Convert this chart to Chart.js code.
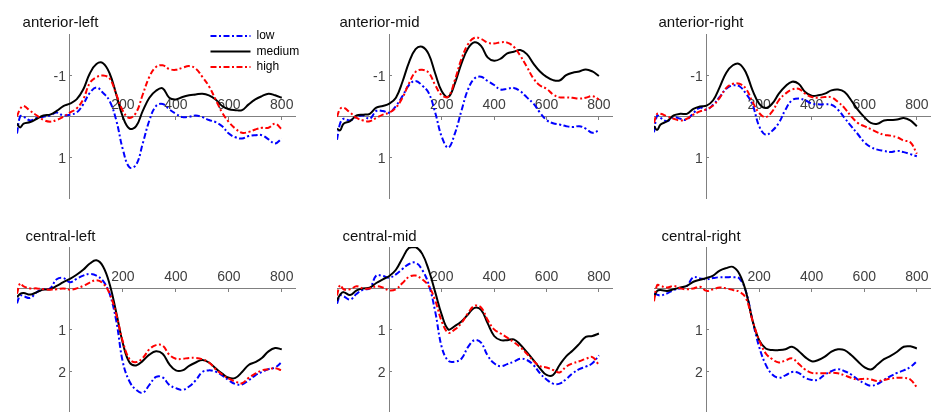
<!DOCTYPE html>
<html>
<head>
<meta charset="utf-8">
<script src="https://cdn.jsdelivr.net/npm/chart.js@4.4.1/dist/chart.umd.min.js"></script>
<style>
html, body { margin: 0; padding: 0; background: #ffffff; width: 935px; height: 412px; overflow: hidden; position: relative; }
.panel { position: absolute; }
.panel canvas { display: block; }
.title { position: absolute; font-family: "Liberation Sans", Arial, Helvetica, sans-serif; font-size: 15px; line-height: 15px; color: #111111; white-space: nowrap; transform: translateX(-50%); }
</style>
</head>
<body>
<script>
// ---------------- data ----------------
const times = [-200, -188, -175, -150, -125, -100, -75, -50, -25, 0, 25, 50, 75, 100, 125, 150, 175, 200, 225, 250, 275, 300, 325, 350, 375, 400, 425, 450, 475, 500, 525, 550, 575, 600, 625, 650, 675, 700, 725, 750, 775, 800];

const seriesNames = ['low', 'medium', 'high'];
const panelTitles = ['anterior-left', 'anterior-mid', 'anterior-right', 'central-left', 'central-mid', 'central-right'];

const xTickValues = [200, 400, 600, 800];
const xTickLabels = ['200', '400', '600', '800'];
const yTickValuesAnterior = [-1, 1];
const yTickLabelsAnterior = ['-1', '1'];
const yTickValuesCentral = [1, 2];
const yTickLabelsCentral = ['1', '2'];

// anterior-left
const anteriorLeftLow = [0.42, 0.00, 0.01, 0.10, 0.04, 0.01, -0.02, -0.09, -0.02, -0.04, -0.09, -0.29, -0.57, -0.70, -0.57, -0.37, 0.10, 0.81, 1.24, 1.18, 0.66, 0.10, -0.25, -0.30, -0.17, -0.06, 0.02, 0.01, -0.02, 0.02, 0.09, 0.14, 0.24, 0.42, 0.51, 0.54, 0.48, 0.46, 0.46, 0.56, 0.66, 0.54];
const anteriorLeftMedium = [0.18, 0.27, 0.18, 0.14, 0.06, -0.02, -0.04, -0.13, -0.25, -0.31, -0.41, -0.65, -1.04, -1.27, -1.29, -1.04, -0.53, 0.02, 0.30, 0.24, -0.13, -0.45, -0.62, -0.68, -0.45, -0.41, -0.47, -0.51, -0.53, -0.55, -0.51, -0.41, -0.25, -0.17, -0.15, -0.15, -0.29, -0.41, -0.49, -0.55, -0.51, -0.45];
const anteriorLeftHigh = [0.00, -0.18, -0.25, -0.13, -0.02, 0.09, 0.13, 0.09, 0.01, -0.09, -0.19, -0.41, -0.81, -0.95, -0.99, -0.92, -0.53, -0.13, 0.04, -0.09, -0.53, -0.96, -1.20, -1.24, -1.15, -1.13, -1.18, -1.22, -1.16, -0.96, -0.73, -0.41, -0.09, 0.14, 0.30, 0.40, 0.38, 0.32, 0.28, 0.28, 0.18, 0.32];

// anterior-mid
const anteriorMidLow = [0.57, 0.17, 0.06, 0.10, 0.01, -0.02, 0.06, -0.13, -0.13, -0.09, -0.25, -0.49, -0.76, -0.86, -0.75, -0.57, -0.09, 0.50, 0.76, 0.42, -0.13, -0.65, -0.92, -0.96, -0.86, -0.76, -0.65, -0.67, -0.69, -0.61, -0.46, -0.31, -0.09, 0.09, 0.17, 0.20, 0.24, 0.26, 0.24, 0.30, 0.40, 0.34];
const anteriorMidMedium = [0.30, 0.34, 0.18, 0.12, -0.02, -0.04, -0.06, -0.21, -0.25, -0.31, -0.45, -0.84, -1.31, -1.63, -1.69, -1.51, -1.04, -0.61, -0.47, -0.80, -1.28, -1.65, -1.80, -1.71, -1.43, -1.35, -1.40, -1.53, -1.57, -1.61, -1.51, -1.28, -1.09, -0.96, -0.88, -0.87, -1.00, -1.06, -1.09, -1.14, -1.09, -0.98];
const anteriorMidHigh = [0.01, -0.18, -0.21, -0.09, 0.04, 0.10, 0.12, 0.04, -0.04, -0.09, -0.21, -0.45, -0.80, -1.08, -1.13, -1.06, -0.76, -0.51, -0.48, -0.88, -1.39, -1.75, -1.91, -1.88, -1.79, -1.77, -1.80, -1.79, -1.69, -1.47, -1.20, -0.92, -0.75, -0.67, -0.53, -0.46, -0.46, -0.45, -0.43, -0.45, -0.49, -0.41];

// anterior-right
const anteriorRightLow = [0.39, -0.02, 0.04, 0.12, 0.02, 0.06, 0.08, -0.08, -0.21, -0.16, -0.28, -0.47, -0.67, -0.75, -0.73, -0.55, -0.28, 0.24, 0.45, 0.35, 0.16, -0.16, -0.39, -0.43, -0.39, -0.31, -0.29, -0.29, -0.28, -0.16, 0.04, 0.24, 0.43, 0.63, 0.75, 0.81, 0.84, 0.87, 0.84, 0.87, 0.92, 0.97];
const anteriorRightMedium = [0.24, 0.33, 0.20, 0.12, -0.02, -0.06, -0.06, -0.18, -0.24, -0.26, -0.39, -0.71, -1.06, -1.24, -1.27, -1.06, -0.63, -0.31, -0.20, -0.31, -0.55, -0.73, -0.84, -0.79, -0.59, -0.50, -0.51, -0.55, -0.63, -0.65, -0.59, -0.39, -0.16, 0.02, 0.16, 0.18, 0.10, 0.09, 0.08, 0.04, 0.10, 0.24];
const anteriorRightHigh = [0.16, -0.06, -0.06, 0.00, 0.06, 0.10, 0.06, -0.04, -0.12, -0.17, -0.26, -0.45, -0.69, -0.79, -0.79, -0.67, -0.35, -0.08, 0.02, -0.12, -0.39, -0.55, -0.65, -0.67, -0.55, -0.47, -0.45, -0.47, -0.46, -0.35, -0.20, 0.00, 0.16, 0.24, 0.31, 0.39, 0.45, 0.47, 0.51, 0.59, 0.63, 0.91];

// central-left
const centralLeftLow = [0.36, 0.17, 0.19, 0.23, 0.09, 0.02, 0.00, -0.22, -0.25, -0.15, -0.23, -0.31, -0.35, -0.31, -0.18, 0.13, 0.79, 1.79, 2.25, 2.45, 2.52, 2.33, 2.14, 2.15, 2.33, 2.41, 2.45, 2.37, 2.22, 2.02, 1.98, 2.01, 2.10, 2.22, 2.31, 2.32, 2.22, 2.10, 2.02, 1.95, 1.91, 1.78];
const centralLeftMedium = [0.21, 0.13, 0.11, 0.15, 0.09, 0.03, 0.02, -0.06, -0.15, -0.23, -0.33, -0.45, -0.60, -0.68, -0.53, -0.10, 0.59, 1.33, 1.79, 1.86, 1.75, 1.60, 1.52, 1.58, 1.83, 1.98, 1.98, 1.87, 1.79, 1.73, 1.79, 1.93, 2.06, 2.16, 2.16, 2.02, 1.85, 1.78, 1.68, 1.52, 1.44, 1.47];
const centralLeftHigh = [0.13, -0.12, -0.05, 0.00, 0.00, 0.02, 0.03, 0.02, 0.00, 0.03, 0.00, -0.06, -0.14, -0.20, -0.12, 0.13, 0.63, 1.29, 1.71, 1.78, 1.68, 1.47, 1.37, 1.38, 1.60, 1.70, 1.70, 1.68, 1.68, 1.71, 1.79, 1.95, 2.08, 2.18, 2.25, 2.29, 2.16, 2.06, 1.98, 1.95, 1.93, 1.98];

// central-mid
const centralMidLow = [0.37, 0.17, 0.19, 0.27, 0.13, 0.03, 0.00, -0.31, -0.30, -0.26, -0.34, -0.47, -0.59, -0.62, -0.45, -0.10, 0.56, 1.42, 1.75, 1.77, 1.70, 1.42, 1.25, 1.31, 1.62, 1.81, 1.88, 1.83, 1.77, 1.70, 1.73, 1.85, 2.05, 2.20, 2.30, 2.30, 2.19, 2.05, 1.95, 1.89, 1.81, 1.62];
const centralMidMedium = [0.29, 0.15, 0.09, 0.16, 0.05, 0.00, -0.02, -0.13, -0.22, -0.30, -0.45, -0.73, -0.98, -1.00, -0.84, -0.45, 0.09, 0.64, 0.99, 0.91, 0.80, 0.63, 0.47, 0.52, 0.84, 1.15, 1.25, 1.25, 1.23, 1.36, 1.54, 1.73, 1.93, 2.09, 2.09, 1.85, 1.64, 1.50, 1.34, 1.17, 1.15, 1.09];
const centralMidHigh = [0.17, -0.08, 0.02, 0.02, -0.05, 0.00, 0.00, -0.05, -0.02, 0.05, 0.02, -0.13, -0.28, -0.31, -0.22, -0.06, 0.29, 0.80, 1.07, 0.99, 0.84, 0.60, 0.42, 0.46, 0.76, 0.99, 1.09, 1.19, 1.30, 1.42, 1.58, 1.75, 1.88, 1.91, 1.97, 2.03, 1.89, 1.81, 1.76, 1.70, 1.66, 1.85];

// central-right
const centralRightLow = [0.12, 0.15, 0.17, 0.12, 0.04, 0.00, -0.06, -0.27, -0.24, -0.22, -0.25, -0.27, -0.27, -0.27, -0.24, 0.08, 0.78, 1.41, 1.84, 2.08, 2.16, 2.10, 2.02, 2.04, 2.16, 2.21, 2.20, 2.08, 2.00, 1.95, 2.00, 2.08, 2.20, 2.29, 2.35, 2.31, 2.21, 2.12, 2.04, 1.98, 1.90, 1.76];
const centralRightMedium = [0.22, 0.06, 0.04, 0.06, 0.02, -0.02, -0.06, -0.16, -0.21, -0.25, -0.31, -0.43, -0.49, -0.52, -0.35, 0.08, 0.78, 1.25, 1.45, 1.49, 1.49, 1.47, 1.41, 1.51, 1.66, 1.76, 1.73, 1.65, 1.53, 1.47, 1.49, 1.61, 1.76, 1.90, 1.96, 1.84, 1.71, 1.63, 1.53, 1.41, 1.40, 1.45];
const centralRightHigh = [0.31, -0.08, -0.06, -0.02, -0.06, 0.00, 0.02, 0.00, -0.04, 0.06, 0.02, -0.02, 0.00, 0.04, 0.08, 0.24, 0.78, 1.25, 1.57, 1.71, 1.79, 1.74, 1.69, 1.82, 1.96, 2.04, 2.05, 2.05, 2.04, 2.05, 2.10, 2.16, 2.20, 2.18, 2.20, 2.24, 2.21, 2.18, 2.16, 2.16, 2.20, 2.39];

// ---------------- layout / style ----------------
const FONT = '"Liberation Sans", Arial, Helvetica, sans-serif';
Chart.defaults.font.family = FONT;

const cols = [
  { left: 17, right: 295, titleX: 60.5 },
  { left: 337, right: 612, titleX: 379.5 },
  { left: 654, right: 930, titleX: 701 }
];
const rows = [
  { top: 34, bottom: 203, min: -2, max: 2, titleTop: 13.8, ticks: yTickValuesAnterior, labels: yTickLabelsAnterior },
  { top: 247, bottom: 417, min: -1, max: 3, titleTop: 228.3, ticks: yTickValuesCentral, labels: yTickLabelsCentral }
];
const PAD = { left: 4, right: 4, top: 12, bottom: 4 };

const seriesStyle = [
  { color: '#0000ff', dash: [6, 2.5, 2, 2.5], order: 2 },
  { color: '#000000', dash: [], order: 1 },
  { color: '#ff0000', dash: [6, 2.5, 2, 2.5], order: 0 }
];

const panelData = [
  [anteriorLeftLow, anteriorLeftMedium, anteriorLeftHigh],
  [anteriorMidLow, anteriorMidMedium, anteriorMidHigh],
  [anteriorRightLow, anteriorRightMedium, anteriorRightHigh],
  [centralLeftLow, centralLeftMedium, centralLeftHigh],
  [centralMidLow, centralMidMedium, centralMidHigh],
  [centralRightLow, centralRightMedium, centralRightHigh]
];

const AXIS_COLOR = '#808080';
const TICK_TEXT = '#404040';

const legendPlacer = {
  id: 'legendPlacer',
  afterLayout(chart) {
    const lg = chart.legend;
    if (!lg || !chart.options.plugins.legend.display) return;
    const ca = chart.chartArea;
    lg.left = ca.left + 190;
    lg.right = lg.left + lg.width;
    lg.top = ca.top - 7.5;
    lg.bottom = lg.top + 120;
  }
};

panelData.forEach((series, p) => {
  const row = rows[Math.floor(p / 3)];
  const col = cols[p % 3];
  const w = (col.right - col.left) + PAD.left + PAD.right;
  const h = (row.bottom - row.top) + PAD.top + PAD.bottom;

  const div = document.createElement('div');
  div.className = 'panel';
  div.style.left = (col.left - PAD.left) + 'px';
  div.style.top = (row.top - PAD.top) + 'px';
  div.style.width = w + 'px';
  div.style.height = h + 'px';
  const canvas = document.createElement('canvas');
  canvas.width = w; canvas.height = h;
  canvas.style.width = w + 'px'; canvas.style.height = h + 'px';
  div.appendChild(canvas);
  document.body.appendChild(div);

  const title = document.createElement('div');
  title.className = 'title';
  title.textContent = panelTitles[p];
  title.style.left = col.titleX + 'px';
  title.style.top = row.titleTop + 'px';
  document.body.appendChild(title);

  const datasets = series.map((vals, s) => ({
    label: seriesNames[s],
    data: times.map((t, i) => ({ x: t, y: vals[i] })),
    borderColor: seriesStyle[s].color,
    backgroundColor: seriesStyle[s].color,
    borderWidth: 2,
    borderDash: seriesStyle[s].dash,
    pointRadius: 0,
    pointHoverRadius: 0,
    tension: 0.4,
    fill: false,
    order: seriesStyle[s].order
  }));

  new Chart(canvas, {
    type: 'line',
    data: { datasets },
    plugins: [legendPlacer],
    options: {
      responsive: false,
      animation: false,
      events: [],
      layout: { padding: PAD, autoPadding: false },
      scales: {
        x: {
          type: 'linear',
          min: -200, max: 850,
          position: { y: 0 },
          afterBuildTicks: (s) => { s.ticks = xTickValues.map(v => ({ value: v })); },
          afterFit: (s) => { s.height = 0; },
          ticks: {
            autoSkip: false, maxRotation: 0, minRotation: 0,
            padding: -23,
            color: TICK_TEXT,
            font: { size: 14, family: FONT },
            callback: (v, i) => xTickLabels[i]
          },
          grid: { display: true, drawOnChartArea: false, drawTicks: true, tickLength: 3, color: AXIS_COLOR, lineWidth: 1 },
          border: { display: true, color: AXIS_COLOR, width: 1 }
        },
        y: {
          type: 'linear',
          reverse: true,
          min: row.min, max: row.max,
          position: { x: 0 },
          afterBuildTicks: (s) => { s.ticks = row.ticks.map(v => ({ value: v })); },
          afterFit: (s) => { s.width = 0; },
          ticks: {
            autoSkip: false,
            padding: 0,
            labelOffset: 1.5,
            color: TICK_TEXT,
            font: { size: 14, family: FONT },
            callback: (v, i) => row.labels[i] + ' '
          },
          grid: { display: true, drawOnChartArea: false, drawTicks: true, tickLength: -3, color: AXIS_COLOR, lineWidth: 1 },
          border: { display: true, color: AXIS_COLOR, width: 1 }
        }
      },
      plugins: {
        title: { display: false },
        tooltip: { enabled: false },
        legend: {
          display: p === 0,
          position: 'chartArea',
          align: 'start',
          labels: {
            usePointStyle: true,
            pointStyle: 'line',
            pointStyleWidth: 40,
            padding: 3.5,
            color: '#000000',
            font: { size: 12, family: FONT },
            generateLabels: (chart) => chart.data.datasets.map((ds, i) => ({
              text: ds.label,
              fillStyle: ds.borderColor,
              strokeStyle: ds.borderColor,
              fontColor: '#000000',
              lineWidth: ds.borderWidth,
              lineDash: ds.borderDash,
              lineCap: 'butt',
              pointStyle: 'line',
              hidden: false,
              datasetIndex: i
            }))
          }
        }
      }
    }
  });
});
</script>
</body>
</html>
